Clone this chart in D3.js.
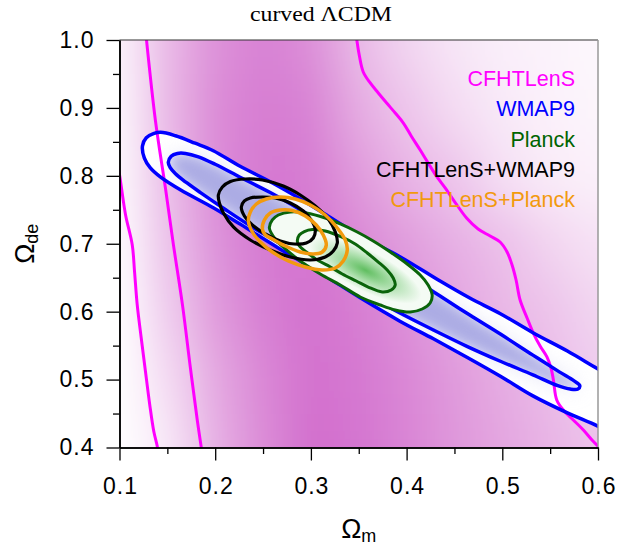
<!DOCTYPE html>
<html><head><meta charset="utf-8">
<script src="https://cdn.jsdelivr.net/npm/d3@7"></script>
<style>body{margin:0;background:#fff}svg{display:block}</style>
</head><body>
<script>
// ---------- data ----------
const xTicks=[0.1,0.2,0.3,0.4,0.5,0.6];
const xMinor=[0.15,0.25,0.35,0.45,0.55];
const yTicks=[0.4,0.5,0.6,0.7,0.8,0.9,1.0];
const yMinor=[0.45,0.55,0.65,0.75,0.85,0.95];

// CFHTLenS posterior density (0 = none, 1 = peak), read from the shading
const cfhtGridX=[0.1,0.15,0.2,0.25,0.3,0.35,0.4,0.45,0.5,0.55,0.6];
const cfhtGridY=[1.0,0.9,0.8,0.7,0.6,0.5,0.4];
const cfhtDensity=[
 [0.08,0.50,0.76,0.86,0.78,0.48,0.28,0.17,0.11,0.08,0.05],
 [0.06,0.50,0.80,0.90,0.86,0.58,0.40,0.24,0.15,0.10,0.07],
 [0.04,0.47,0.79,0.93,0.91,0.70,0.52,0.40,0.22,0.14,0.10],
 [0.02,0.42,0.75,0.92,0.95,0.82,0.68,0.55,0.45,0.30,0.20],
 [0.01,0.35,0.70,0.88,0.97,0.90,0.77,0.63,0.50,0.42,0.28],
 [0.00,0.25,0.60,0.83,0.98,0.93,0.83,0.70,0.58,0.47,0.35],
 [0.00,0.15,0.55,0.80,1.00,0.95,0.85,0.72,0.62,0.52,0.42]
];

// CFHTLenS contour segments (Omega_m, Omega_de)
const cfhtInnerLeft=[[0.1275,1.01],[0.1376,0.8807],[0.148,0.782],[0.1564,0.698],[0.1658,0.610],[0.1741,0.517],[0.1814,0.439],[0.186,0.395]];
const cfhtOuterLeft=[[0.098,0.815],[0.1,0.8017],[0.1063,0.7428],[0.1133,0.6986],[0.1157,0.6595],[0.1185,0.6103],[0.1227,0.5613],[0.1271,0.5122],[0.1316,0.4630],[0.1358,0.4239],[0.1394,0.4022],[0.140,0.395]];
const cfhtInnerRight=[[0.347,1.01],[0.3505,0.9779],[0.3547,0.9529],[0.3620,0.9367],[0.3704,0.9220],[0.3794,0.9068],[0.3881,0.8925],[0.3968,0.8774],[0.4048,0.8587],[0.4142,0.8380],[0.4225,0.8189],[0.4316,0.7987],[0.4403,0.7821],[0.4490,0.7644],[0.4629,0.7375],[0.4747,0.7217],[0.4873,0.7114],[0.4977,0.7026],[0.5050,0.6879],[0.5102,0.6687],[0.5144,0.6466],[0.5186,0.6172],[0.5259,0.5907],[0.5325,0.5682],[0.5395,0.5495],[0.5465,0.5337],[0.5509,0.5171],[0.5534,0.4994],[0.5569,0.4700],[0.5638,0.4552],[0.5742,0.4405],[0.5847,0.4258],[0.5937,0.4111],[0.6,0.402],[0.606,0.394]];

// WMAP9 contours
const wmapOuter=[[0.124,0.844],[0.128,0.856],[0.1355,0.862],[0.143,0.864],[0.1585,0.859],[0.179,0.848],[0.198,0.837],[0.226,0.814],[0.258,0.791],[0.289,0.766],[0.320,0.739],[0.352,0.711],[0.393,0.681],[0.435,0.645],[0.466,0.620],[0.498,0.597],[0.532,0.569],[0.568,0.542],[0.602,0.514],[0.628,0.494],
 [0.628,0.410],[0.602,0.430],[0.568,0.451],[0.532,0.476],[0.498,0.505],[0.463,0.533],[0.428,0.560],[0.393,0.586],[0.352,0.620],[0.310,0.657],[0.268,0.692],[0.226,0.729],[0.198,0.753],[0.164,0.779],[0.143,0.798],[0.132,0.812],[0.126,0.826]];
const wmapInner=[[0.151,0.820],[0.154,0.829],[0.1605,0.833],[0.169,0.833],[0.1825,0.828],[0.200,0.817],[0.226,0.798],[0.258,0.775],[0.289,0.750],[0.320,0.723],[0.352,0.695],[0.393,0.661],[0.435,0.623],[0.466,0.595],[0.498,0.567],[0.532,0.536],[0.560,0.511],[0.575,0.498],[0.581,0.491],
 [0.579,0.486],[0.571,0.486],[0.558,0.491],[0.532,0.507],[0.498,0.527],[0.463,0.549],[0.428,0.573],[0.393,0.598],[0.362,0.622],[0.331,0.647],[0.299,0.673],[0.268,0.700],[0.237,0.726],[0.211,0.750],[0.185,0.775],[0.169,0.791],[0.1585,0.803],[0.153,0.812]];

// Planck contours
const planckOuter=[[0.2566,0.7232],[0.2597,0.7350],[0.266,0.7423],[0.2785,0.7468],[0.2952,0.7453],[0.315,0.7379],[0.3307,0.7291],[0.3484,0.7173],[0.3651,0.7041],[0.3829,0.6879],[0.4006,0.6702],[0.4142,0.6540],[0.4225,0.6393],[0.4267,0.6246],[0.4246,0.6128],[0.4163,0.6039],[0.4038,0.5995],[0.3881,0.6025],[0.3724,0.6098],[0.3516,0.6216],[0.3307,0.6393],[0.3098,0.6555],[0.2889,0.6746],[0.2733,0.6923],[0.2628,0.7070]];
const planckInner=[[0.2858,0.7041],[0.2879,0.7129],[0.2931,0.7180],[0.3015,0.7210],[0.315,0.7188],[0.3307,0.7107],[0.3463,0.6996],[0.3589,0.6864],[0.3704,0.6731],[0.3797,0.6614],[0.386,0.6496],[0.3881,0.6393],[0.3839,0.6319],[0.3745,0.6290],[0.3599,0.6363],[0.3474,0.6452],[0.3328,0.6555],[0.3203,0.6658],[0.3067,0.6761],[0.2952,0.6879],[0.2879,0.6967]];
const planckPeak=[0.357,0.661];

// CFHTLenS+WMAP9
const cwOuter=[[0.2033,0.7718],[0.2075,0.7836],[0.2159,0.7917],[0.2315,0.7953],[0.2493,0.7939],[0.2712,0.7850],[0.2889,0.7718],[0.3046,0.7556],[0.3182,0.7365],[0.3255,0.7173],[0.3276,0.7011],[0.3234,0.6893],[0.315,0.6805],[0.2994,0.6761],[0.2785,0.6805],[0.2576,0.6908],[0.2367,0.7055],[0.219,0.7247],[0.2086,0.7453],[0.2044,0.7600]];
const cwInner=[[0.2273,0.7541],[0.2305,0.7630],[0.2367,0.7674],[0.2493,0.7688],[0.2628,0.7674],[0.2785,0.7600],[0.2921,0.7482],[0.3004,0.7350],[0.3046,0.7203],[0.3025,0.7085],[0.2952,0.7011],[0.2827,0.6996],[0.2681,0.7041],[0.2524,0.7144],[0.2388,0.7276],[0.2305,0.7409]];

// CFHTLenS+Planck
const cpOuter=[[0.2347,0.7335],[0.2367,0.7468],[0.243,0.7585],[0.2534,0.7659],[0.2681,0.7688],[0.2837,0.7659],[0.2994,0.7571],[0.315,0.7423],[0.3276,0.7232],[0.3359,0.7055],[0.338,0.6908],[0.3338,0.6746],[0.3255,0.6643],[0.3119,0.6614],[0.2942,0.6658],[0.2764,0.6746],[0.2597,0.6879],[0.2472,0.7026],[0.2388,0.7173]];
const cpInner=[[0.2493,0.7217],[0.2514,0.7350],[0.2576,0.7453],[0.2681,0.7497],[0.2806,0.7490],[0.2942,0.7409],[0.3056,0.7276],[0.3129,0.7129],[0.3161,0.6982],[0.3119,0.6879],[0.3025,0.6849],[0.2889,0.6879],[0.2733,0.6967],[0.2597,0.7070],[0.2524,0.7129]];

const legendLabels=["CFHTLenS","WMAP9","Planck","CFHTLenS+WMAP9","CFHTLenS+Planck"];
const legendColors=["#ff00ff","#0000ff","#006400","#000000","#f29a0e"];

// ---------- drawing ----------
const W=619,H=549;
const P={l:119.5,r:598,t:40,b:447.5};
const x=d3.scaleLinear().domain([0.1,0.6]).range([P.l,P.r]);
const y=d3.scaleLinear().domain([0.4,1.0]).range([P.b,P.t]);

const svg=d3.select("body").append("svg").attr("width",W).attr("height",H);
const defs=svg.append("defs");
defs.append("clipPath").attr("id","plotClip").append("rect")
  .attr("x",P.l).attr("y",P.t).attr("width",P.r-P.l).attr("height",P.b-P.t);
defs.append("filter").attr("id","bgBlur").attr("filterUnits","userSpaceOnUse")
  .attr("x",-100).attr("y",-100).attr("width",900).attr("height",800)
  .append("feGaussianBlur").attr("stdDeviation","20 26");
defs.append("filter").attr("id","wBlur").attr("filterUnits","userSpaceOnUse")
  .attr("x",0).attr("y",0).attr("width",700).attr("height",600)
  .append("feGaussianBlur").attr("stdDeviation","7");
defs.append("filter").attr("id","wBlur2").attr("filterUnits","userSpaceOnUse")
  .attr("x",0).attr("y",0).attr("width",700).attr("height",600)
  .append("feGaussianBlur").attr("stdDeviation","10");

const closed=d3.line().x(d=>x(d[0])).y(d=>y(d[1])).curve(d3.curveCatmullRomClosed.alpha(0.5));
const open=d3.line().x(d=>x(d[0])).y(d=>y(d[1])).curve(d3.curveCatmullRom.alpha(0.5));

defs.append("clipPath").attr("id","wmapClip").append("path").attr("d",closed(wmapOuter));
defs.append("clipPath").attr("id","wmapInClip").append("path").attr("d",closed(wmapInner));

const pg=defs.append("radialGradient").attr("id","planckGrad")
  .attr("gradientUnits","userSpaceOnUse").attr("cx",0).attr("cy",0).attr("r",1)
  .attr("gradientTransform",`translate(${x(planckPeak[0])},${y(planckPeak[1])}) rotate(27) scale(62,20)`);
pg.append("stop").attr("offset",0).attr("stop-color","rgb(96,190,96)");
pg.append("stop").attr("offset",0.45).attr("stop-color","rgb(165,220,165)");
pg.append("stop").attr("offset",1).attr("stop-color","rgb(244,251,244)");

const color=d3.interpolateRgb("#ffffff","rgb(210,110,205)");

const plotG=svg.append("g").attr("clip-path","url(#plotClip)");
// background density
const bg=plotG.append("g").attr("filter","url(#bgBlur)");
const nx=cfhtGridX.length, ny=cfhtGridY.length;
cfhtGridY.forEach((gy,j)=>{
  cfhtGridX.forEach((gx,i)=>{
    const cx=x(gx), cy=y(gy);
    const l=i===0?P.l-90:(x(cfhtGridX[i-1])+cx)/2;
    const r=i===nx-1?P.r+90:(cx+x(cfhtGridX[i+1]))/2;
    const t=j===0?P.t-90:(y(cfhtGridY[j-1])+cy)/2;
    const b=j===ny-1?P.b+90:(cy+y(cfhtGridY[j+1]))/2;
    bg.append("rect").attr("x",l).attr("y",t).attr("width",r-l+0.5).attr("height",b-t+0.5)
      .attr("fill",color(cfhtDensity[j][i])).attr("shape-rendering","crispEdges");
  });
});

// WMAP fill
plotG.append("path").attr("d",closed(wmapOuter)).attr("fill","#ffffff");
plotG.append("g").attr("clip-path","url(#wmapClip)")
  .append("path").attr("d",closed(wmapInner)).attr("fill","rgb(205,205,240)").attr("opacity",0.5).attr("filter","url(#wBlur2)");
plotG.append("g").attr("clip-path","url(#wmapInClip)")
  .append("path").attr("d",closed(wmapInner)).attr("fill","rgb(172,172,228)").attr("filter","url(#wBlur)");

// CFHTLenS lines
[cfhtInnerLeft,cfhtOuterLeft,cfhtInnerRight].forEach(c=>{
  plotG.append("path").attr("d",open(c)).attr("fill","none").attr("stroke","#ff00ff").attr("stroke-width",3);
});

// WMAP lines
[wmapOuter,wmapInner].forEach(c=>{
  plotG.append("path").attr("d",closed(c)).attr("fill","none").attr("stroke","#0000ff").attr("stroke-width",3.5);
});

// Planck
plotG.append("path").attr("d",closed(planckOuter)).attr("fill","url(#planckGrad)");
[planckOuter,planckInner].forEach(c=>{
  plotG.append("path").attr("d",closed(c)).attr("fill","none").attr("stroke","#0a640a").attr("stroke-width",3);
});
// combined
[cwOuter,cwInner].forEach(c=>{
  plotG.append("path").attr("d",closed(c)).attr("fill","none").attr("stroke","#000000").attr("stroke-width",3.2);
});
[cpOuter,cpInner].forEach(c=>{
  plotG.append("path").attr("d",closed(c)).attr("fill","none").attr("stroke","#f29a0e").attr("stroke-width",3.5);
});

// frame
svg.append("line").attr("x1",P.l).attr("x2",P.r).attr("y1",P.t).attr("y2",P.t).attr("stroke","#333").attr("stroke-width",1.2);
svg.append("line").attr("x1",P.r).attr("x2",P.r).attr("y1",P.t).attr("y2",P.b).attr("stroke","#999").attr("stroke-width",1.5);

// axes
const fmt=d3.format(".1f");
const tickFont="'Liberation Sans', Arial, Helvetica, sans-serif";
const gx=svg.append("g").attr("transform",`translate(0,${P.b})`)
  .call(d3.axisBottom(x).tickValues(xTicks).tickFormat(fmt).tickSize(13).tickSizeOuter(0).tickPadding(17));
svg.append("g").attr("transform",`translate(0,${P.b})`)
  .call(d3.axisBottom(x).tickValues(xMinor).tickFormat("").tickSize(6.5).tickSizeOuter(0));
const gy=svg.append("g").attr("transform",`translate(${P.l},0)`)
  .call(d3.axisLeft(y).tickValues(yTicks).tickFormat(fmt).tickSize(13).tickSizeOuter(0).tickPadding(13));
svg.append("g").attr("transform",`translate(${P.l},0)`)
  .call(d3.axisLeft(y).tickValues(yMinor).tickFormat("").tickSize(6.5).tickSizeOuter(0));
svg.selectAll(".domain").attr("stroke","#000").attr("stroke-width",1.5);
svg.selectAll(".tick line").attr("stroke","#000").attr("stroke-width",1.3);
svg.selectAll(".tick text").attr("font-family",tickFont).attr("font-size",23).attr("fill","#000");
gy.selectAll(".tick text").attr("letter-spacing","1px").attr("dx","1px");
gx.selectAll(".tick text").attr("letter-spacing","1px").attr("dx","0.5px");

// axis titles
const xt=svg.append("text").attr("x",(P.l+P.r)/2).attr("y",537.5).attr("text-anchor","middle")
  .attr("font-family",tickFont).attr("font-size",27);
xt.append("tspan").text("Ω");
xt.append("tspan").attr("font-size",18).attr("dy",4).text("m");

const yt=svg.append("text").attr("transform",`translate(34,${(P.t+P.b)/2}) rotate(-90)`).attr("text-anchor","middle")
  .attr("font-family",tickFont).attr("font-size",27);
yt.append("tspan").text("Ω");
yt.append("tspan").attr("font-size",18).attr("dy",4).text("de");

// title
svg.append("text").attr("x",321).attr("y",21).attr("text-anchor","middle")
  .attr("font-family","'Liberation Serif','Times New Roman',serif").attr("font-size",20)
  .attr("textLength",142).attr("lengthAdjust","spacingAndGlyphs").text("curved ΛCDM");

// legend
legendLabels.forEach((lab,i)=>{
  svg.append("text").attr("x",575).attr("y",86+i*30.25).attr("text-anchor","end")
    .attr("font-family",tickFont).attr("font-size",21.5).attr("fill",legendColors[i]).text(lab);
});
</script>
</body></html>
